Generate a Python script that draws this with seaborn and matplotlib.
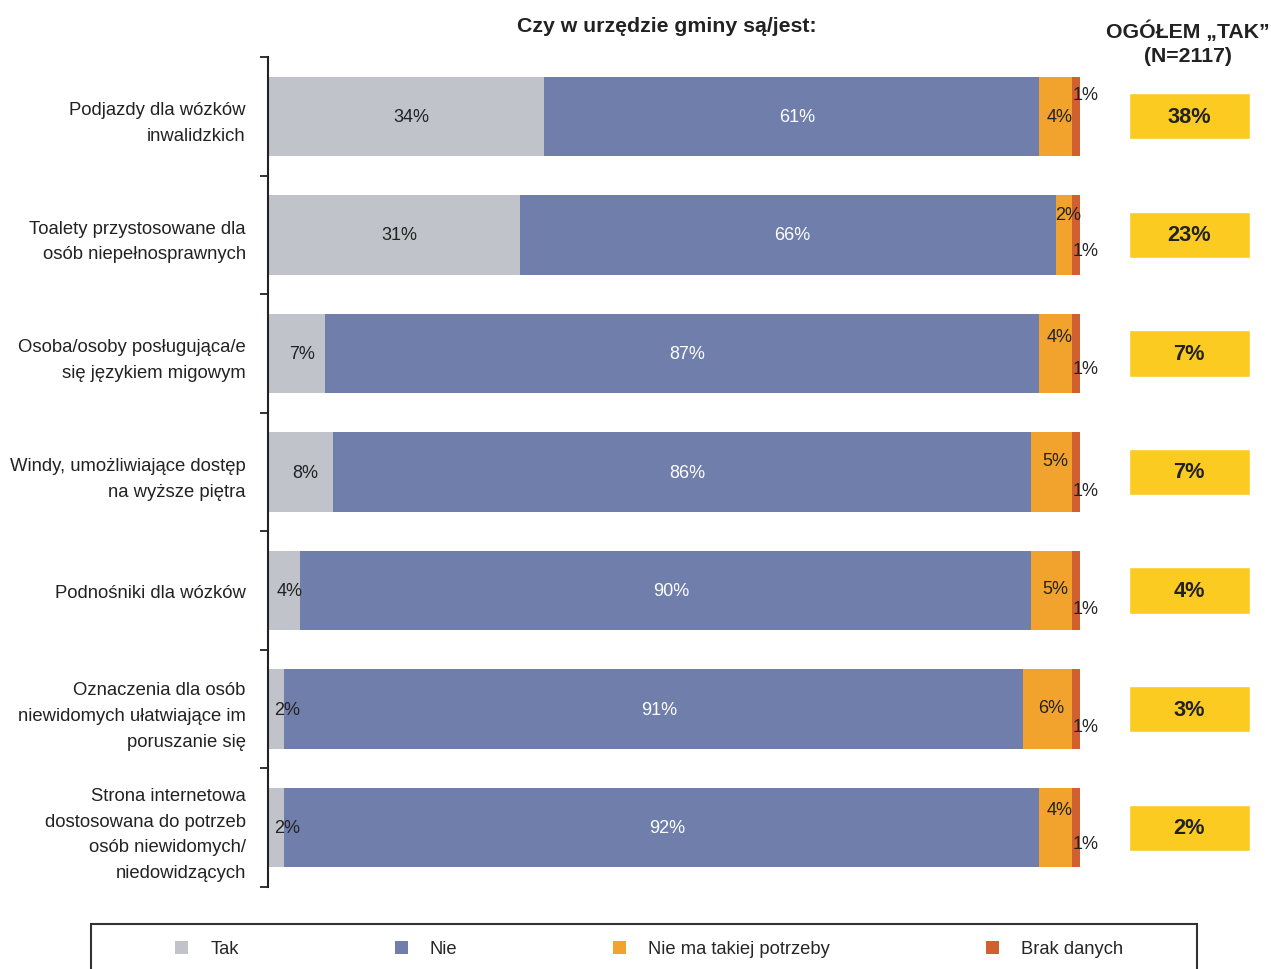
import numpy as np
import pandas as pd
import matplotlib
matplotlib.use("Agg")
import matplotlib.pyplot as plt
from matplotlib.patches import Patch, Rectangle
import seaborn as sns

# --- data ---
categories = [
    "Podjazdy dla wózków\ninwalidzkich",
    "Toalety przystosowane dla\nosób niepełnosprawnych",
    "Osoba/osoby posługująca/e\nsię językiem migowym",
    "Windy, umożliwiające dostęp\nna wyższe piętra",
    "Podnośniki dla wózków",
    "Oznaczenia dla osób\nniewidomych ułatwiające im\nporuszanie się",
    "Strona internetowa\ndostosowana do potrzeb\nosób niewidomych/\nniedowidzących",
]
tak = [34, 31, 7, 8, 4, 2, 2]
nie = [61, 66, 87, 86, 90, 91, 92]
brak_potrzeby = [4, 2, 4, 5, 5, 6, 4]
brak_danych = [1, 1, 1, 1, 1, 1, 1]
ogolem_tak = [38, 23, 7, 7, 4, 3, 2]

series = ["Tak", "Nie", "Nie ma takiej potrzeby", "Brak danych"]
colors = ["#C0C3CA", "#6F7EAA", "#F2A32E", "#D06030"]

# label placement tweaks (row offsets for the two small segments)
nmtp_dy = [0.0, -0.17, -0.14, -0.10, -0.02, -0.01, -0.15]
brak_dy = [-0.18, 0.13, 0.13, 0.16, 0.15, 0.15, 0.13]

df = pd.DataFrame({"Tak": tak, "Nie": nie,
                   "Nie ma takiej potrzeby": brak_potrzeby,
                   "Brak danych": brak_danych}, index=categories)
shares = df.div(df.sum(axis=1), axis=0) * 100
cum = shares.cumsum(axis=1)
starts = cum - shares

sns.set_theme(style="white")
plt.rcParams['font.family'] = ['Liberation Sans', 'DejaVu Sans']

fig = plt.figure(figsize=(12.71, 9.70), dpi=100)
ax = fig.add_axes([268 / 1271, 82 / 970, 812 / 1271, 830 / 970])

# stacked bars: draw cumulative totals back to front
for name, col in reversed(list(zip(series, colors))):
    sns.barplot(x=cum[name].values, y=categories, orient="h", color=col,
                saturation=1, width=0.67, linewidth=0, ax=ax)

ax.set_xlim(0, 100)
ax.set_ylim(6.5, -0.5)
ax.set_xticks([])
ax.set_xlabel("")
ax.set_ylabel("")
sns.despine(ax=ax, bottom=True)
ax.spines["left"].set_color("#222222")
ax.spines["left"].set_linewidth(1.5)

ax.set_yticks(range(len(categories)))
ax.set_yticklabels(categories, fontsize=13.3, linespacing=1.66, color="#222222")
ax.tick_params(axis="y", which="major", length=0, pad=16)
ax.set_yticks(np.arange(-0.5, len(categories), 1), minor=True)
ax.tick_params(axis="y", which="minor", left=True, length=6, width=1.3,
               direction="out", color="#222222")

dark = "#222222"
for i, cat in enumerate(categories):
    # Tak
    c = (starts.loc[cat, "Tak"] + cum.loc[cat, "Tak"]) / 2
    ax.annotate(f"{tak[i]}%", (max(c, 1.7), i), xytext=(5, 0),
                textcoords="offset pixels", ha="center", va="center",
                fontsize=13, color=dark)
    # Nie
    c = (starts.loc[cat, "Nie"] + cum.loc[cat, "Nie"]) / 2
    ax.annotate(f"{nie[i]}%", (c, i), xytext=(5, 0),
                textcoords="offset pixels", ha="center", va="center",
                fontsize=13, color="white")
    # Nie ma takiej potrzeby
    c = (starts.loc[cat, "Nie ma takiej potrzeby"] + cum.loc[cat, "Nie ma takiej potrzeby"]) / 2
    ax.annotate(f"{brak_potrzeby[i]}%", (c, i + nmtp_dy[i]), xytext=(4, 0),
                textcoords="offset pixels", ha="center", va="center",
                fontsize=13, color=dark)
    # Brak danych
    ax.annotate(f"{brak_danych[i]}%", (starts.loc[cat, "Brak danych"], i + brak_dy[i]),
                xytext=(1, 0), textcoords="offset pixels", ha="left",
                va="center", fontsize=13, color=dark, annotation_clip=False)

# OGÓŁEM "TAK" column
ax.barh(range(len(categories)), width=14.9, left=106.0, height=0.39,
        color="#FBCB22", clip_on=False)
for i, v in enumerate(ogolem_tak):
    ax.text(113.45, i, f"{v}%", ha="center", va="center", fontsize=15.7,
            fontweight="bold", color=dark, clip_on=False)

fig.text(667 / 1271, 1 - 27 / 970, "Czy w urzędzie gminy są/jest:",
         ha="center", va="center", fontsize=15.3, fontweight="bold", color=dark)
fig.text(1188 / 1271, 1 - 31 / 970, "OGÓŁEM „TAK”", ha="center", va="center",
         fontsize=15.3, fontweight="bold", color=dark)
fig.text(1188 / 1271, 1 - 57 / 970, "(N=2117)", ha="center", va="center",
         fontsize=15.3, fontweight="bold", color=dark)

# legend
handles = [Patch(facecolor=c, edgecolor="none") for c in colors]
fig.legend(handles, series, loc="center left",
           bbox_to_anchor=(175 / 1271, 1 - 950 / 970), ncol=4, frameon=False,
           fontsize=13.2, handlelength=0.72, handleheight=0.72, handletextpad=1.2,
           columnspacing=8.5, borderpad=0, borderaxespad=0)
fig.add_artist(Rectangle((91 / 1271, -0.05), (1197 - 91) / 1271, 0.05 + 45 / 970,
                         transform=fig.transFigure, fill=False,
                         edgecolor="#333333", linewidth=1.5))

fig.savefig("out.png", dpi=100)
